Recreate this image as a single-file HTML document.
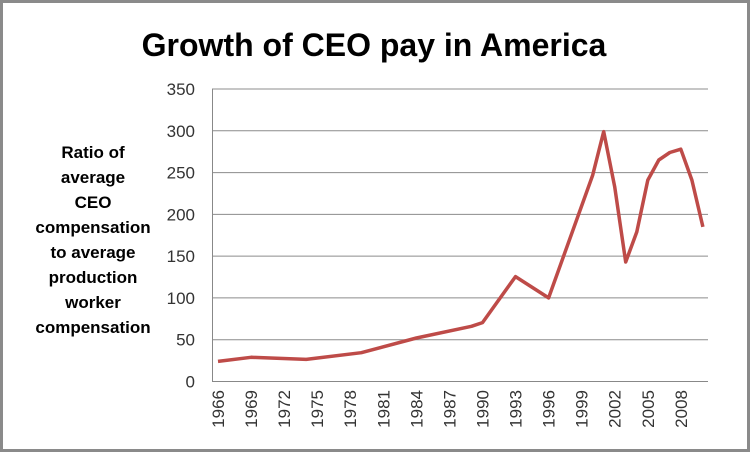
<!DOCTYPE html>
<html><head><meta charset="utf-8"><style>
html,body{margin:0;padding:0;background:#fff;}
svg{display:block;font-family:"Liberation Sans",sans-serif;}
</style></head><body>
<svg id="chart" width="750" height="452" viewBox="0 0 750 452" xmlns="http://www.w3.org/2000/svg">
<rect x="1.5" y="1.5" width="747" height="449" fill="#fff" stroke="#8a8a8a" stroke-width="3"/>
<text x="374" y="56" text-anchor="middle" font-size="32" font-weight="bold" fill="#000">Growth of CEO pay in America</text>
<g font-size="17" font-weight="bold" fill="#000" text-anchor="middle">
<text x="93" y="158">Ratio of</text>
<text x="93" y="183">average</text>
<text x="93" y="208">CEO</text>
<text x="93" y="233">compensation</text>
<text x="93" y="258">to average</text>
<text x="93" y="283">production</text>
<text x="93" y="308">worker</text>
<text x="93" y="333">compensation</text>
</g>
<g id="grid"></g>
<g id="yticks" font-size="17" fill="#333" text-anchor="end"></g>
<g id="xticks" font-size="17" fill="#333"></g>
<path id="line" fill="none" stroke="#be4b48" stroke-width="3.5" stroke-linejoin="round"/>
<line x1="212.5" y1="89" x2="212.5" y2="382" stroke="#888"/>
<line x1="212" y1="381.5" x2="708" y2="381.5" stroke="#888"/>
</svg>
<script>
const years = [1966,1969,1974,1979,1984,1989,1990,1993,1996,2000,2001,2002,2003,2004,2005,2006,2007,2008,2009,2010];
const ratios = [24,29,26.5,34.5,52,66,70.5,125.5,100,247,299,233,143,179,241,265,274,278,241,185];
const yTicks = [0,50,100,150,200,250,300,350];
const xTickYears = [1966,1969,1972,1975,1978,1981,1984,1987,1990,1993,1996,1999,2002,2005,2008];
const NS="http://www.w3.org/2000/svg";
const x = yr => 218 + (yr-1966)*11.02;
const y = v => 381.5 - v*(292.5/350);
const grid=document.getElementById('grid'), yt=document.getElementById('yticks'), xt=document.getElementById('xticks');
yTicks.forEach(v=>{
  if(v>0){const l=document.createElementNS(NS,'line');
  
  
  l.setAttribute('x1',212);l.setAttribute('x2',708);l.setAttribute('y1',y(v));l.setAttribute('y2',y(v));
  l.setAttribute('stroke','#8c8c8c');l.setAttribute('stroke-width','1');grid.appendChild(l);}
  const t=document.createElementNS(NS,'text');
  
  
  t.setAttribute('x',195);t.setAttribute('y',y(v)+6);t.textContent=v;yt.appendChild(t);
});
xTickYears.forEach(yr=>{
  const t=document.createElementNS(NS,'text');
  
  
  const cx=x(yr)+6;
  t.setAttribute('x',cx);t.setAttribute('y',390);t.setAttribute('text-anchor','end');
  t.setAttribute('transform','rotate(-90 '+cx+' 390)');t.textContent=yr;xt.appendChild(t);
});
document.getElementById('line').setAttribute('d', years.map((yr,i)=>(i?'L':'M')+x(yr).toFixed(1)+' '+y(ratios[i]).toFixed(1)).join(' '));
</script>
</body></html>
